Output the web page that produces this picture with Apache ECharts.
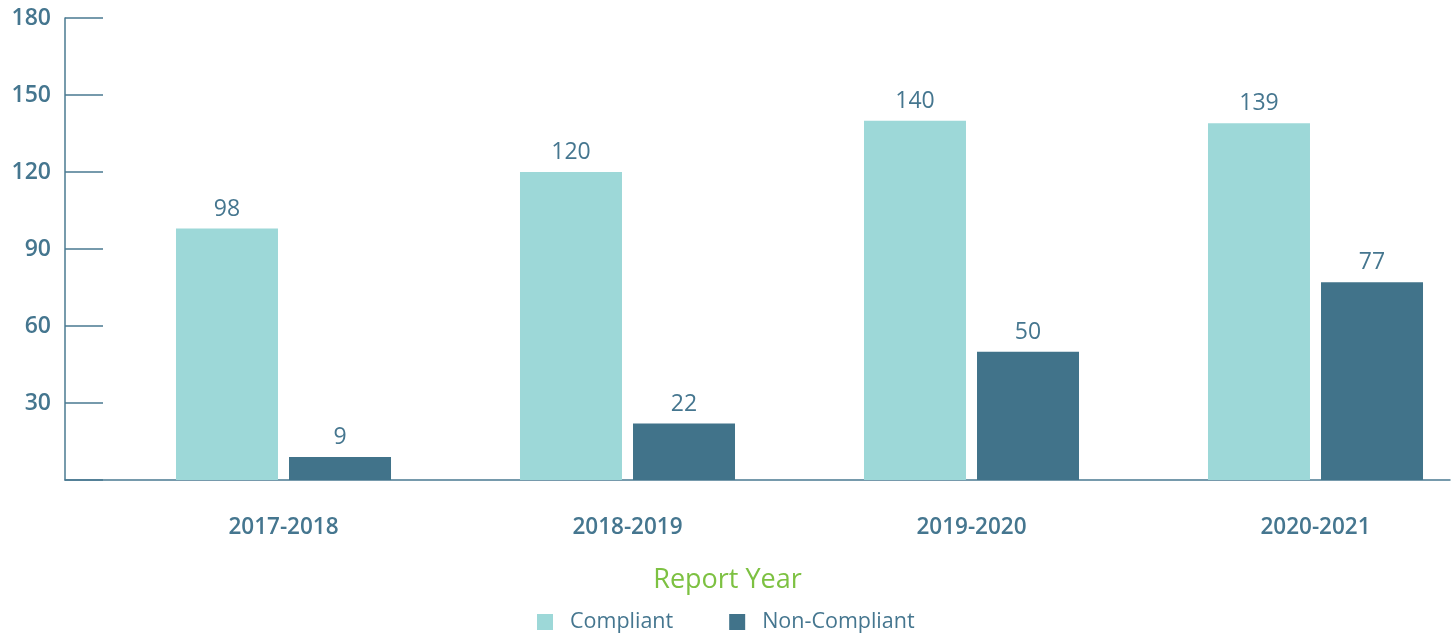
<!DOCTYPE html>
<html>
<head>
<meta charset="utf-8">
<script src="https://cdn.jsdelivr.net/npm/echarts@6/dist/echarts.min.js"></script>
<style>
  html, body { margin: 0; padding: 0; background: #fff; }
  #chart { width: 1455px; height: 635px; }
</style>
</head>
<body>
<div id="chart"></div>
<script>
// DATA
const reportYears = ["2017-2018", "2018-2019", "2019-2020", "2020-2021"];
const compliant = [98, 120, 140, 139];
const nonCompliant = [9, 22, 50, 77];
const seriesNames = ["Compliant", "Non-Compliant"];

const textColor = "#45768f";
const axisColor = "#4a7a91";
const fontFamily = "'Open Sans', sans-serif";

let complianceChart = echarts.init(document.getElementById("chart"));

let complianceOption = {
  animation: false,
  title: {
    text: "Report Year",
    left: "center",
    top: 562,
    textStyle: {
      color: "#7dc142",
      fontSize: 27,
      fontWeight: "normal",
      fontFamily: fontFamily,
    },
  },
  legend: {
    data: seriesNames,
    left: 537,
    top: 611,
    padding: 0,
    itemWidth: 16,
    itemHeight: 16,
    itemGap: 56,
    icon: "rect",
    textStyle: {
      color: textColor,
      fontSize: 21.5,
      fontFamily: fontFamily,
      padding: [0, 0, 0, 12],
    },
  },
  grid: [
    { left: 111.5, width: 1376, top: 18, bottom: 155, outerBoundsMode: "none" },
    { left: 65, right: 5, top: 18, bottom: 155, outerBoundsMode: "none" },
  ],
  xAxis: [
    {
      type: "category",
      gridIndex: 0,
      data: reportYears,
      axisLine: { show: false },
      axisTick: { show: false },
      axisLabel: {
        color: textColor,
        fontSize: 22.5,
        fontWeight: 600,
        fontFamily: fontFamily,
        margin: 36,
      },
    },
    {
      type: "category",
      gridIndex: 1,
      data: [""],
      axisLine: { lineStyle: { color: axisColor, width: 1.5 } },
      axisTick: { show: false },
      axisLabel: { show: false },
    },
  ],
  yAxis: [
    {
      type: "value",
      gridIndex: 0,
      min: 0,
      max: 180,
      interval: 30,
      offset: 46.5,
      splitLine: { show: false },
      axisLine: { show: true, lineStyle: { color: axisColor, width: 1.5 } },
      axisTick: {
        show: true,
        inside: true,
        length: 38,
        lineStyle: { color: axisColor, width: 1.5 },
      },
      axisLabel: {
        color: textColor,
        fontSize: 23,
        fontWeight: 600,
        fontFamily: fontFamily,
        margin: 14,
        formatter: (value) => (value === 0 ? "" : value),
      },
    },
    {
      type: "value",
      gridIndex: 1,
      show: false,
    },
  ],
  series: [
    {
      name: seriesNames[0],
      type: "bar",
      xAxisIndex: 0,
      yAxisIndex: 0,
      data: compliant,
      barWidth: 102,
      barGap: "10.8%",
      itemStyle: { color: "#9dd8d8" },
      label: {
        show: true,
        position: "top",
        distance: 8,
        color: textColor,
        fontSize: 23,
        fontFamily: fontFamily,
      },
    },
    {
      name: seriesNames[1],
      type: "bar",
      xAxisIndex: 0,
      yAxisIndex: 0,
      data: nonCompliant,
      barWidth: 102,
      barGap: "10.8%",
      itemStyle: { color: "#41738a" },
      label: {
        show: true,
        position: "top",
        distance: 8,
        color: textColor,
        fontSize: 23,
        fontFamily: fontFamily,
      },
    },
  ],
};

complianceChart.setOption(complianceOption);
</script>
</body>
</html>
